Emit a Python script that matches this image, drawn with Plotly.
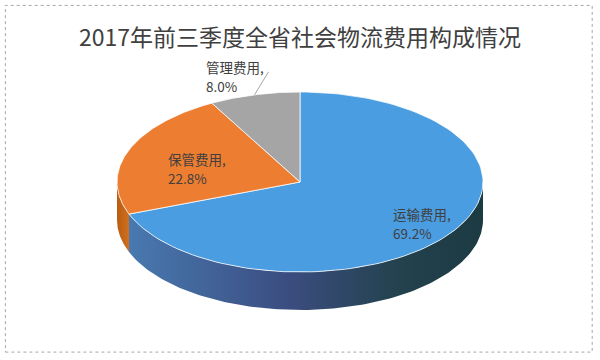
import math
import plotly.graph_objects as go

# ---- data ----
categories = ["运输费用", "保管费用", "管理费用"]
values = [69.2, 22.8, 8.0]
pct_labels = ["69.2%", "22.8%", "8.0%"]
title_text = "2017年前三季度全省社会物流费用构成情况"

# ---- style / geometry (pixel-space) ----
top_colors = ["#4a9de0", "#ed7d31", "#a5a5a5"]
side_fills = [
    dict(type="horizontal", colorscale=[[0, "#4879b0"], [0.45, "#3b4d80"], [0.75, "#24424f"], [1, "#1c3a42"]]),
    dict(type="horizontal", colorscale=[[0, "#b85c10"], [1, "#d0701e"]]),
    dict(type="horizontal", colorscale=[[0, "#808080"], [1, "#909090"]]),
]
cx, cy, rx, ry, depth = 300, 182, 183, 90, 38
label_font = dict(family="Noto Sans CJK SC", size=13.5, color="#404040")

def pt(theta, r=1.0, dy=0.0):
    t = math.radians(theta)
    return cx + rx * r * math.sin(t), cy - ry * r * math.cos(t) + dy

def arc(a, b, dy=0.0, n=120):
    xs, ys = [], []
    for i in range(n + 1):
        x, y = pt(a + (b - a) * i / n, 1.0, dy)
        xs.append(x); ys.append(y)
    return xs, ys

total = sum(values)
starts, ends = [], []
acc = 0.0
for v in values:
    starts.append(acc / total * 360)
    acc += v
    ends.append(acc / total * 360)

fig = go.Figure()

# side walls (front half: 90..270 deg)
for i in range(len(values)):
    a, b = max(starts[i], 90), min(ends[i], 270)
    if b <= a:
        continue
    xt, yt = arc(a, b)
    xb, yb = arc(b, a, depth)
    fig.add_trace(go.Scatter(
        x=xt + xb + [xt[0]], y=yt + yb + [yt[0]], mode="lines", fill="toself",
        fillgradient=side_fills[i], line=dict(width=0), hoverinfo="skip", showlegend=False))

# top faces
for i in range(len(values)):
    xs, ys = arc(starts[i], ends[i])
    fig.add_trace(go.Scatter(
        x=[cx] + xs + [cx], y=[cy] + ys + [cy], mode="lines", fill="toself",
        fillcolor=top_colors[i], line=dict(color="rgba(255,255,255,0.75)", width=1),
        hoverinfo="skip", showlegend=False))

# data labels (two lines each, left-aligned)
label_r = [0.62, 0.62, 1.18]
label_shift = [(-2, 10), (-27, 6), (-42, -3)]
line_gap = 19
for i in range(len(values)):
    mid = (starts[i] + ends[i]) / 2
    x, y = pt(mid, label_r[i])
    lx, ly = x + label_shift[i][0], y + label_shift[i][1]
    fig.add_annotation(x=lx, y=ly - line_gap / 2, text=categories[i] + ",", showarrow=False,
                       xanchor="left", yanchor="middle", font=label_font)
    fig.add_annotation(x=lx, y=ly + line_gap / 2, text=pct_labels[i], showarrow=False,
                       xanchor="left", yanchor="middle", font=label_font)

# leader line for the small slice
mid = (starts[2] + ends[2]) / 2
x0, y0 = pt(mid, 1.0)
fig.add_shape(type="line", x0=x0, y0=y0, x1=x0 + 14, y1=y0 - 23,
              line=dict(color="#a6a6a6", width=1))

# border
fig.add_shape(type="rect", xref="paper", yref="paper", x0=0.009, y0=0.022, x1=0.987, y1=0.985,
              line=dict(color="#a6a6a6", width=1, dash="dot"))

fig.update_layout(
    width=600, height=360, margin=dict(l=0, r=0, t=0, b=0),
    paper_bgcolor="white", plot_bgcolor="white",
    xaxis=dict(range=[0, 600], visible=False, fixedrange=True),
    yaxis=dict(range=[360, 0], visible=False, fixedrange=True),
    title=dict(text=title_text, x=0.5, xanchor="center", y=0.895, yanchor="middle",
               font=dict(family="Noto Sans CJK SC", size=23, color="#404040")),
    showlegend=False,
)

fig.write_html("out.html", post_script="document.body.style.margin='0';",
               config={"displayModeBar": False})
